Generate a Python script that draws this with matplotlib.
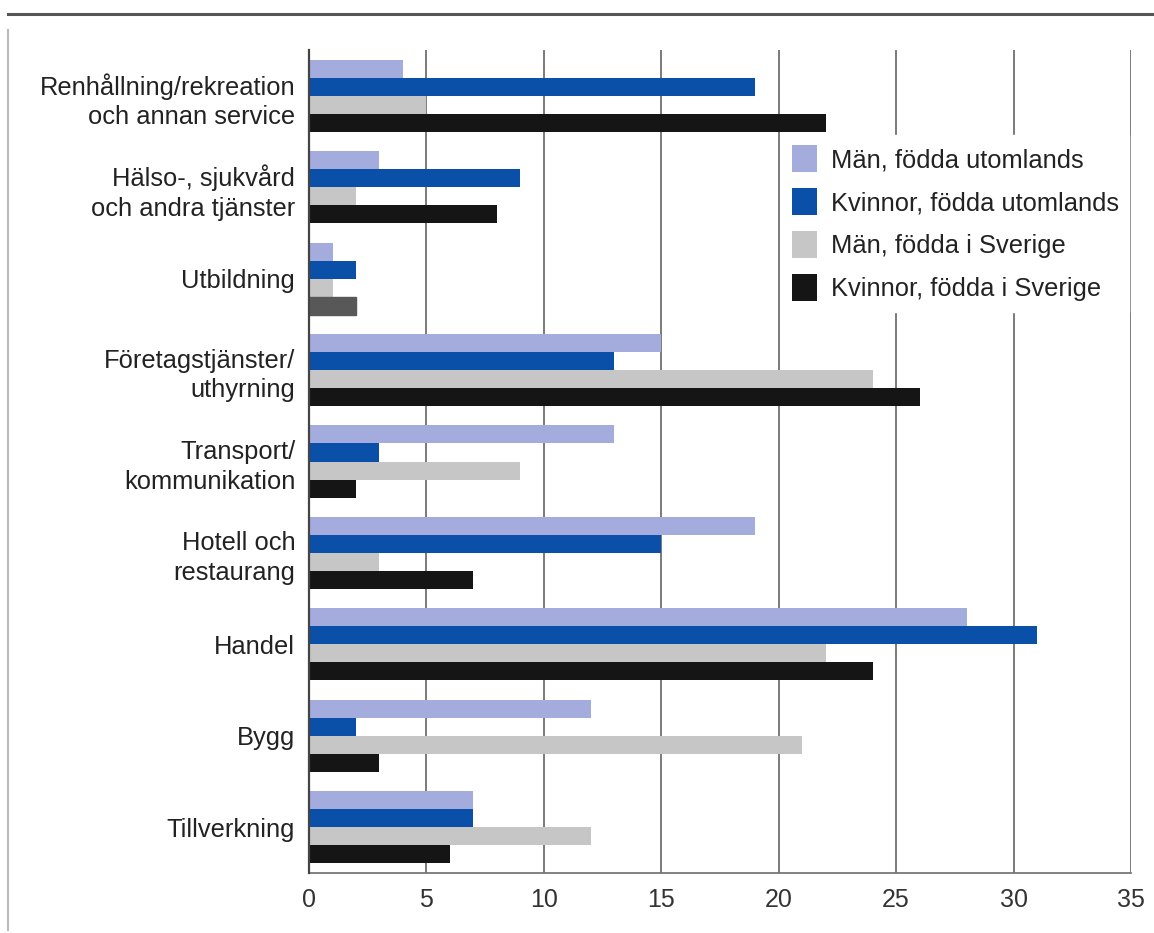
import numpy as np
import matplotlib
matplotlib.use("Agg")
import matplotlib.pyplot as plt
from matplotlib.lines import Line2D

plt.rcParams['font.family'] = ['Liberation Sans', 'DejaVu Sans']

categories = ["Renhållning/rekreation\noch annan service",
              "Hälso-, sjukvård\noch andra tjänster",
              "Utbildning",
              "Företagstjänster/\nuthyrning",
              "Transport/\nkommunikation",
              "Hotell och\nrestaurang",
              "Handel",
              "Bygg",
              "Tillverkning"]

series_names = ["Män, födda utomlands", "Kvinnor, födda utomlands",
                "Män, födda i Sverige", "Kvinnor, födda i Sverige"]

man_utl = [4, 3, 1, 15, 13, 19, 28, 12, 7]
kvinnor_utl = [19, 9, 2, 13, 3, 15, 31, 2, 7]
man_sve = [5, 2, 1, 24, 9, 3, 22, 21, 12]
kvinnor_sve = [22, 8, 2, 26, 2, 7, 24, 3, 6]

colors = ["#a4acde", "#0a50a8", "#c6c6c6", "#151515"]

fig = plt.figure(figsize=(11.54, 9.33), dpi=100)
ax = fig.add_axes([0.2678, 0.0643, 0.7122, 0.8821])

y = np.arange(len(categories))
h = 0.197
offsets = [-1.5 * h, -0.5 * h, 0.5 * h, 1.5 * h]
all_vals = [man_utl, kvinnor_utl, man_sve, kvinnor_sve]
handles = []
for vals, off, col, name in zip(all_vals, offsets, colors, series_names):
    bars = ax.barh(y + off, vals, height=h, color=col, label=name, zorder=2)
    handles.append(bars)

# the Utbildning bar for women born in Sweden is drawn in dark grey
handles[3][2].set_color("#585858")

ax.set_xlim(0, 35)
ax.set_ylim(8.5, -0.5)
ax.set_xticks(np.arange(0, 36, 5))
ax.set_yticks(y)
ax.set_yticklabels(categories, fontsize=18.4, color="#222222", ha="right",
                   linespacing=1.3)
ax.tick_params(axis='x', labelsize=18, colors="#333333", length=0, pad=11)
ax.tick_params(axis='y', length=0, pad=10)
ax.grid(axis='x', color="#707070", linewidth=1.3, zorder=0)
ax.set_axisbelow(True)
for s in ["top", "right"]:
    ax.spines[s].set_visible(False)
ax.spines["left"].set_color("#444444")
ax.spines["left"].set_linewidth(1.6)
ax.spines["left"].set_zorder(3)
ax.spines["bottom"].set_color("#777777")
ax.spines["bottom"].set_linewidth(1.3)

leg = ax.legend(loc="upper left", bbox_to_anchor=(0.56, 0.912), fontsize=18.4,
                frameon=True, facecolor="white", edgecolor="white", framealpha=1,
                handlelength=0.95, handleheight=1.25, handletextpad=0.55,
                labelspacing=0.62, borderpad=0.4, fancybox=False)
leg.set_zorder(5)
for t in leg.get_texts():
    t.set_color("#222222")

# frame lines around the figure
fig.add_artist(Line2D([8 / 1154, 1.0], [1 - 14 / 933, 1 - 14 / 933],
                      color="#555555", linewidth=2.2, transform=fig.transFigure))
fig.add_artist(Line2D([8 / 1154, 8 / 1154], [1 - 30 / 933, 1 - 930 / 933],
                      color="#bbbbbb", linewidth=1.5, transform=fig.transFigure))

fig.savefig("out.png", dpi=100)
